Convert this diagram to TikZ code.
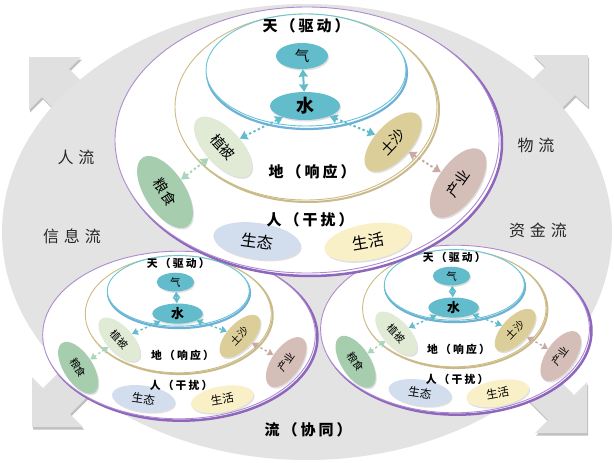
\documentclass[tikz,border=0pt]{standalone}
\usepackage{fontspec}
\newfontfamily\cjk{Noto Sans CJK SC}
\usetikzlibrary{shapes.geometric,arrows.meta,shadows}
\definecolor{bggray}{HTML}{E3E3E3}
\definecolor{arrgray}{HTML}{E0E0E0}
\definecolor{purpline}{HTML}{AE8AD0}
\definecolor{purpshade}{HTML}{8E66BC}
\definecolor{tanline}{HTML}{CDBC84}
\definecolor{tanshade}{HTML}{B09C58}
\definecolor{skyline}{HTML}{67C6D6}
\definecolor{skyshade}{HTML}{4B9CCC}
\definecolor{qicol}{HTML}{62BCCB}
\definecolor{zbcol}{HTML}{E0EAD4}
\definecolor{lscol}{HTML}{A6CEAE}
\definecolor{tscol}{HTML}{DCCE98}
\definecolor{cycol}{HTML}{D5BEB7}
\definecolor{stcol}{HTML}{D2DDEE}
\definecolor{shcol}{HTML}{F9F0C8}
\definecolor{greenarr}{HTML}{A8D6BA}
\definecolor{pinkarr}{HTML}{C9ABA3}
\tikzset{
 blob/.style={ellipse, inner sep=0pt, drop shadow={opacity=0.25, shadow xshift=1pt, shadow yshift=-1.5pt}},
 lnk/.style={{Stealth[length=2pt 2.8,width=2pt 3.6,inset=0.6pt]}-{Stealth[length=2pt 2.8,width=2pt 3.6,inset=0.6pt]}},
 dotlnk/.style={lnk, dash pattern=on 2.4pt off 2.4pt},
 arrshape/.style={fill=arrgray},
 arrshadow/.style={fill=black!45, opacity=0.55},
 graylab/.style={inner sep=0pt, text=black!85, font=\cjk\fontsize{16}{16}\selectfont\addfontfeature{LetterSpace=30}},
 biglab/.style={inner sep=0pt, font=\cjk\bfseries\fontsize{15}{15}\selectfont\addfontfeature{LetterSpace=20}},
}
\newcommand\drawsys[6]{%
 \pgfmathsetmacro\ns{#6}%
 \pgfmathsetmacro\fsL{15*#6}%
 \pgfmathsetmacro\fsN{14.5*#6}%
 \pgfmathsetmacro\fsS{16*#6}%
 \pgfmathsetmacro\fsW{18*#6}%
 \pgfmathsetmacro\lw{2*#6}%
 \begin{scope}[shift={(#2,#3)},xscale=#4,yscale=#5,
   labf/.style={inner sep=0pt,font=\cjk\bfseries\fontsize{\fsL}{\fsL}\selectfont\addfontfeature{LetterSpace=20}},
   nodf/.style={font=\cjk\fontsize{\fsN}{\fsN}\selectfont},
   nods/.style={font=\cjk\fontsize{\fsS}{\fsS}\selectfont}]
  \fill[white,draw=purpshade,line width=2.5pt] (3,3) ellipse [x radius=192,y radius=133];
  \fill[white,draw=purpline,line width=0.9pt] (0,0) ellipse [x radius=192,y radius=133];
  \draw[tanshade!70,line width=2pt] (1,-31) ellipse [x radius=131,y radius=93];
  \draw[tanline,line width=0.9pt,fill=white] (-1,-33) ellipse [x radius=131,y radius=93];
  \draw[skyshade!80,line width=2.2pt] (0,-67) ellipse [x radius=100,y radius=56];
  \draw[skyline,line width=0.9pt,fill=white] (-1,-70) ellipse [x radius=100,y radius=56];
  \node[blob,nodf,fill=qicol,minimum width=52*\ns,minimum height=26*\ns] (#1-qi) at (-5,-84) {气};
  \node[blob,fill=qicol,minimum width=70*\ns,minimum height=28*\ns,font=\cjk\bfseries\fontsize{\fsW}{\fsW}\selectfont] (#1-shui) at (-2,-34) {水};
  \node[blob,nodf,fill=zbcol,minimum width=76*\ns,minimum height=36*\ns,rotate=-47] (#1-zb) at (-84,7) {植被};
  \node[blob,nodf,fill=lscol,minimum width=82*\ns,minimum height=40*\ns,rotate=-57] (#1-ls) at (-142,52) {粮食};
  \node[blob,nodf,fill=tscol,minimum width=74*\ns,minimum height=36*\ns,rotate=47] (#1-ts) at (86,2) {土沙};
  \node[blob,nodf,fill=cycol,minimum width=80*\ns,minimum height=40*\ns,rotate=55] (#1-cy) at (151,43) {产业};
  \node[blob,nods,fill=stcol,minimum width=88*\ns,minimum height=36*\ns,rotate=-8] (#1-st) at (-50,101) {生态};
  \node[blob,nods,fill=shcol,minimum width=88*\ns,minimum height=36*\ns,rotate=10] (#1-sh) at (61,102) {生活};
  \node[labf] (#1-tian) at (-1,-114) {天（驱动）};
  \node[labf] (#1-di) at (5,32) {地（响应）};
  \node[labf] (#1-ren) at (3,80) {人（干扰）};
  \draw[lnk,draw=qicol,line width=\lw pt] (#1-qi) -- (#1-shui);
  \draw[dotlnk,draw=qicol,line width=\lw pt] (#1-shui) -- (#1-zb);
  \draw[dotlnk,draw=qicol,line width=\lw pt] (#1-shui) -- (#1-ts);
  \draw[dotlnk,draw=greenarr,line width=\lw pt] (#1-zb) -- (#1-ls);
  \draw[dotlnk,draw=pinkarr,line width=\lw pt] (#1-ts) -- (#1-cy);
 \end{scope}}
\begin{document}
\begin{tikzpicture}[x=1pt,y=-1pt]
\useasboundingbox (0,0) rectangle (614,463);
% corner arrows: shadows
\begin{scope}[shift={(1.2,2.5)}]
\fill[arrshadow] (29,57) -- (81,57) -- (69,69) -- (125,125) -- (100,155) -- (42,97) -- (29,110) -- cycle;
\fill[arrshadow] (588,55) -- (533,55) -- (545,67) -- (495,117) -- (525,145) -- (575,95) -- (588,107) -- cycle;
\fill[arrshadow] (32,427) -- (32,377) -- (43,388) -- (93,338) -- (120,364) -- (70,414) -- (83,427) -- cycle;
\fill[arrshadow] (587,433) -- (535,433) -- (548,420) -- (500,372) -- (527,348) -- (574,395) -- (587,382) -- cycle;
\end{scope}
\fill[arrshape] (29,57) -- (81,57) -- (69,69) -- (125,125) -- (100,155) -- (42,97) -- (29,110) -- cycle;
\fill[arrshape] (588,55) -- (533,55) -- (545,67) -- (495,117) -- (525,145) -- (575,95) -- (588,107) -- cycle;
\fill[arrshape] (32,427) -- (32,377) -- (43,388) -- (93,338) -- (120,364) -- (70,414) -- (83,427) -- cycle;
\fill[arrshape] (587,433) -- (535,433) -- (548,420) -- (500,372) -- (527,348) -- (574,395) -- (587,382) -- cycle;
% background ellipse
\fill[bggray] (307,232) ellipse [x radius=305,y radius=228];
% flow labels
\node[graylab] (renliu) at (76,157) {人流};
\node[graylab] (xinxi) at (72,236) {信息流};
\node[graylab] (wuliu) at (536,145) {物流};
\node[graylab] (zijin) at (538,230) {资金流};
\node[biglab] (xietong) at (308,430) {流（协同）};
% systems
\drawsys{L}{179}{335}{0.71}{0.63}{0.72}
\drawsys{R}{455}{329}{0.70}{0.63}{0.72}
\drawsys{T}{307}{140}{1}{1}{1}
\end{tikzpicture}
\end{document}
